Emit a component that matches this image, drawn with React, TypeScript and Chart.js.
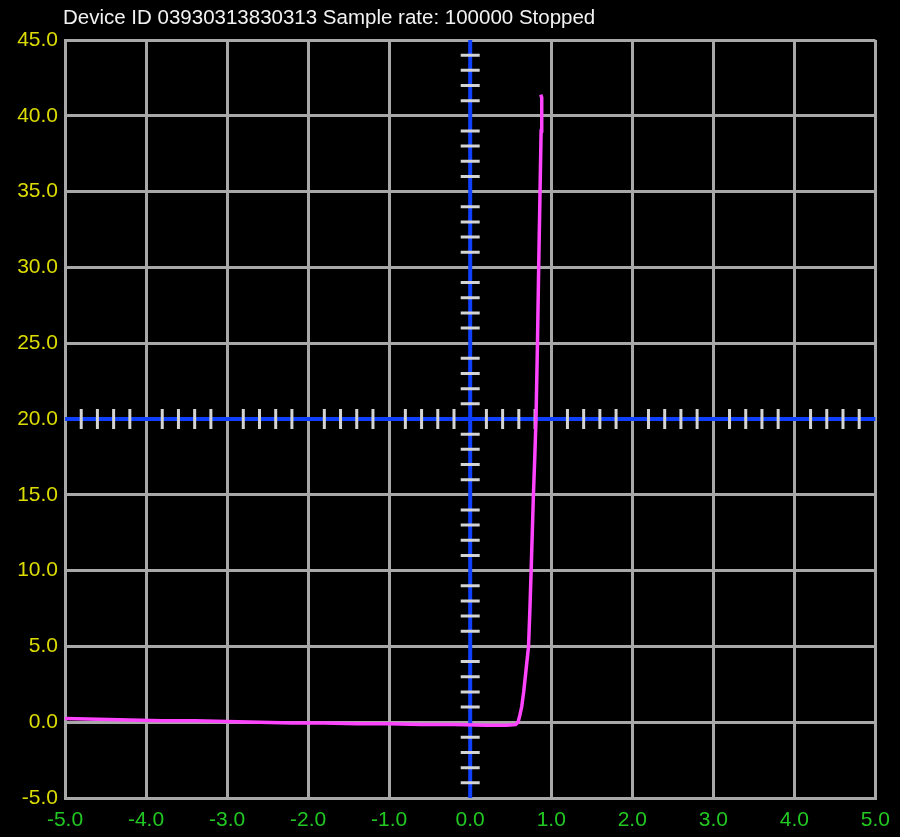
import { useEffect, useRef } from "react";
import Chart from "chart.js/auto";

// axis ticks
const xTicks = [-5, -4, -3, -2, -1, 0, 1, 2, 3, 4, 5];
const yTicks = [-5, 0, 5, 10, 15, 20, 25, 30, 35, 40, 45];

// measured trace: voltage (V) against current (mA)
const voltage = [
  -5.0, -4.6, -4.2, -3.8, -3.4, -3.0, -2.6, -2.2, -1.8, -1.4, -1.0, -0.6,
  -0.2, 0.2, 0.45, 0.56, 0.59, 0.61, 0.635, 0.66, 0.68, 0.7, 0.72, 0.737,
  0.752, 0.766, 0.78, 0.797, 0.812, 0.83, 0.845, 0.855, 0.865, 0.875, 0.885,
  0.88, 0.87
];
const current = [
  0.25, 0.2, 0.15, 0.1, 0.1, 0.05, 0.0, -0.05, -0.05, -0.1, -0.1, -0.15,
  -0.15, -0.2, -0.2, -0.15, 0.0, 0.4, 1.0, 2.0, 3.0, 4.0, 5.0, 7.5, 10.0,
  12.5, 15.0, 17.5, 20.0, 25.0, 30.0, 33.0, 36.0, 39.0, 40.5, 41.2, 41.4
];

const title = "Device ID 03930313830313 Sample rate: 100000 Stopped";
const crossX = 0;
const crossY = 20;

const FONT = "'Liberation Sans', Arial, sans-serif";

const scopePlugin = {
  id: "scope",
  beforeDraw(chart: any) {
    const { ctx, width, height } = chart;
    ctx.save();
    ctx.fillStyle = "#000";
    ctx.fillRect(0, 0, width, height);
    ctx.fillStyle = "#f2f2f2";
    ctx.font = `20.5px ${FONT}`;
    ctx.textBaseline = "alphabetic";
    ctx.fillText(title, 63, 24);
    ctx.restore();
  },
  beforeDatasetsDraw(chart: any) {
    const { ctx, chartArea, scales } = chart;
    const x = scales.x;
    const y = scales.y;
    const px = x.getPixelForValue(crossX);
    const py = y.getPixelForValue(crossY);
    ctx.save();
    // blue crosshair
    ctx.strokeStyle = "#1040ff";
    ctx.lineWidth = 4;
    ctx.beginPath();
    ctx.moveTo(px, chartArea.top);
    ctx.lineTo(px, chartArea.bottom);
    ctx.moveTo(chartArea.left, py);
    ctx.lineTo(chartArea.right, py);
    ctx.stroke();
    // minor marks
    ctx.strokeStyle = "#d4d4d4";
    ctx.lineWidth = 3;
    ctx.beginPath();
    for (let v = -5; v <= 45; v += 1) {
      if (v % 5 === 0) continue;
      const yy = y.getPixelForValue(v);
      ctx.moveTo(px - 9.5, yy);
      ctx.lineTo(px + 9.5, yy);
    }
    for (let i = -25; i <= 25; i++) {
      if (i % 5 === 0) continue;
      const xx = x.getPixelForValue(i / 5);
      ctx.moveTo(xx, py - 10);
      ctx.lineTo(xx, py + 10);
    }
    ctx.stroke();
    ctx.restore();
  }
};

export default function App() {
  const canvasRef = useRef<HTMLCanvasElement>(null);
  const chartRef = useRef<Chart | null>(null);

  useEffect(() => {
    document.body.style.margin = "0";
    document.body.style.background = "#000";
    if (!canvasRef.current) return;
    if (chartRef.current) chartRef.current.destroy();

    const ctx = canvasRef.current.getContext("2d");
    if (!ctx) return;

    chartRef.current = new Chart(ctx, {
      type: "line",
      data: {
        datasets: [
          {
            data: voltage.map((v, i) => ({ x: v, y: current[i] })),
            borderColor: "#ff44ff",
            borderWidth: 3.5,
            pointRadius: 0,
            tension: 0,
            fill: false
          }
        ]
      },
      options: {
        animation: false,
        responsive: true,
        maintainAspectRatio: false,
        layout: { padding: { left: 0, right: 24, top: 40, bottom: 0 } },
        plugins: {
          legend: { display: false },
          tooltip: { enabled: false }
        },
        scales: {
          x: {
            type: "linear",
            min: xTicks[0],
            max: xTicks[xTicks.length - 1],
            afterBuildTicks: (scale: any) => {
              scale.ticks = xTicks.map(v => ({ value: v }));
            },
            afterFit: (scale: any) => {
              scale.height = 39;
            },
            grid: { color: "#a8a8a8", lineWidth: 3, drawTicks: false },
            border: { color: "#a8a8a8", width: 3 },
            ticks: {
              color: "#22c822",
              padding: 10,
              maxRotation: 0,
              font: { family: FONT, size: 21 },
              callback: (v: any) => Number(v).toFixed(1)
            }
          },
          y: {
            type: "linear",
            min: yTicks[0],
            max: yTicks[yTicks.length - 1],
            afterBuildTicks: (scale: any) => {
              scale.ticks = yTicks.map(v => ({ value: v }));
            },
            afterFit: (scale: any) => {
              scale.width = 65;
            },
            grid: { color: "#a8a8a8", lineWidth: 3, drawTicks: false },
            border: { color: "#a8a8a8", width: 3 },
            ticks: {
              color: "#dcdc00",
              padding: 7,
              font: { family: FONT, size: 21 },
              callback: (v: any) => Number(v).toFixed(1)
            }
          }
        }
      },
      plugins: [scopePlugin]
    });

    return () => {
      if (chartRef.current) {
        chartRef.current.destroy();
        chartRef.current = null;
      }
    };
  }, []);

  return (
    <div style={{ width: 900, height: 837, position: "relative", background: "#000" }}>
      <canvas ref={canvasRef} />
    </div>
  );
}
